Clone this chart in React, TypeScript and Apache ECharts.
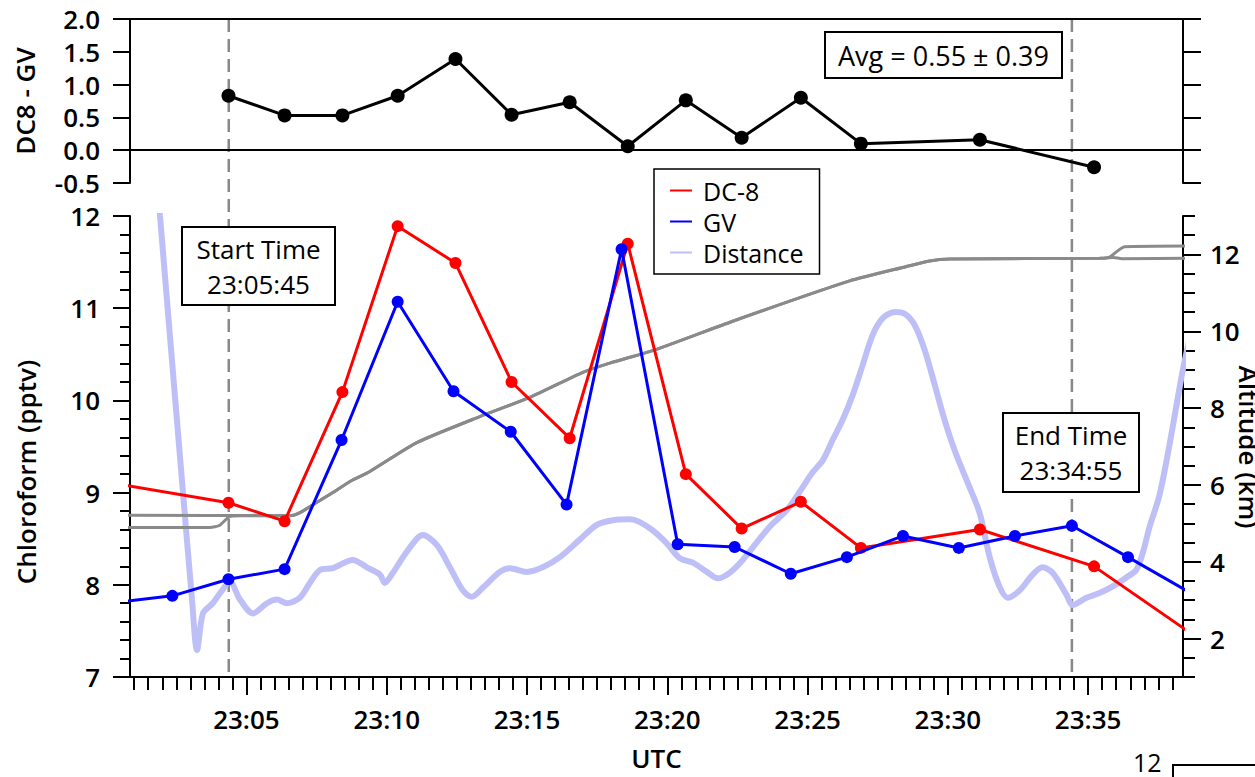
import { useEffect, useRef } from "react";
import * as echarts from "echarts";

const FONT = "'Open Sans', 'DejaVu Sans', sans-serif";

// x values are minutes after 23:00 UTC
const X_MIN = 0.85;
const X_MAX = 38.38;
const TIME_TICKS = [5, 10, 15, 20, 25, 30, 35];
const TIME_TICK_LABELS = ["23:05", "23:10", "23:15", "23:20", "23:25", "23:30", "23:35"];

// DC-8 chloroform (pptv)
const DC8_TIME = [0.3, 4.36, 6.36, 8.42, 10.39, 12.45, 14.45, 16.52, 18.59, 20.66, 22.65, 24.76, 26.9, 31.14, 35.21, 39.2];
const DC8_VALUE = [9.1, 8.89, 8.69, 10.09, 11.89, 11.49, 10.2, 9.59, 11.7, 9.2, 8.61, 8.9, 8.4, 8.6, 8.2, 7.36];

// GV chloroform (pptv)
const GV_TIME = [0.36, 2.36, 4.36, 6.36, 8.39, 10.39, 12.38, 14.42, 16.41, 18.37, 20.37, 22.4, 24.4, 26.4, 28.4, 30.39, 32.39, 34.42, 36.42, 38.6];
const GV_VALUE = [7.81, 7.88, 8.06, 8.17, 9.57, 11.07, 10.1, 9.66, 8.87, 11.64, 8.44, 8.41, 8.12, 8.3, 8.53, 8.4, 8.53, 8.64, 8.3, 7.92];

// DC8 - GV difference (pptv)
const DIFF_TIME = [4.36, 6.36, 8.42, 10.39, 12.45, 14.45, 16.52, 18.59, 20.66, 22.65, 24.76, 26.9, 31.14, 35.21];
const DIFF_VALUE = [0.83, 0.53, 0.53, 0.83, 1.39, 0.54, 0.73, 0.06, 0.76, 0.19, 0.8, 0.1, 0.16, -0.26];

// Distance (plotted on its own hidden scale)
const DISTANCE: [number, number][] = [
  [1.74, 12.72], [1.92, 12.0], [2.7, 9.14], [3.06, 7.84], [3.24, 7.29], [3.45, 7.69], [3.8, 7.8], [4.06, 7.91],
  [4.41, 8.03], [4.77, 7.84], [5.23, 7.69], [5.73, 7.8], [6.09, 7.84], [6.44, 7.8], [6.9, 7.86], [7.26, 8.02],
  [7.62, 8.16], [8.08, 8.18], [8.79, 8.27], [9.29, 8.19], [9.76, 8.11], [9.93, 8.02], [10.22, 8.13], [10.72, 8.36],
  [11.29, 8.54], [11.79, 8.43], [12.25, 8.19], [12.71, 7.94], [13.03, 7.87], [13.43, 7.97], [14.03, 8.14], [14.39, 8.18],
  [14.99, 8.14], [15.56, 8.19], [16.17, 8.3], [16.88, 8.49], [17.49, 8.65], [18.06, 8.7], [18.66, 8.71], [19.02, 8.68],
  [19.48, 8.59], [19.98, 8.45], [20.44, 8.29], [20.91, 8.24], [21.41, 8.14], [21.8, 8.07], [22.22, 8.13], [22.69, 8.27],
  [23.19, 8.46], [23.65, 8.63], [24.26, 8.81], [24.72, 9.01], [25.18, 9.22], [25.54, 9.35], [25.89, 9.57], [26.25, 9.79],
  [26.61, 10.06], [26.96, 10.38], [27.32, 10.71], [27.67, 10.89], [28.1, 10.96], [28.46, 10.94], [28.81, 10.82], [29.17, 10.55],
  [29.53, 10.17], [29.88, 9.79], [30.24, 9.46], [30.66, 9.14], [31.13, 8.78], [31.49, 8.3], [31.84, 7.98], [32.13, 7.86],
  [32.56, 7.94], [33.02, 8.11], [33.37, 8.19], [33.73, 8.13], [34.23, 7.89], [34.44, 7.78], [34.94, 7.86], [35.4, 7.91],
  [35.86, 7.98], [36.36, 8.08], [36.71, 8.16], [36.94, 8.34], [37.19, 8.63], [37.54, 8.97], [37.9, 9.52], [38.36, 10.31],
  [38.61, 10.66],
];

// Altitudes (km)
const ALT_DC8: [number, number][] = [
  [0.5, 5.21], [6.55, 5.2], [6.91, 5.28], [7.5, 5.54], [8.08, 5.8], [8.69, 6.09], [9.4, 6.35], [11.07, 7.1],
  [13.32, 7.78], [15.1, 8.28], [16.99, 8.93], [17.95, 9.17], [19.62, 9.53], [22.33, 10.26], [26.5, 11.31], [28.5, 11.68],
  [29.35, 11.83], [30.06, 11.88], [35.41, 11.9], [35.76, 11.93], [36.3, 12.2], [38.8, 12.22],
];
const ALT_GV: [number, number][] = [
  [0.5, 4.89], [3.7, 4.89], [4.05, 4.95], [4.38, 5.17], [4.8, 5.2], [6.55, 5.2], [6.91, 5.28], [7.5, 5.54],
  [8.08, 5.8], [8.69, 6.09], [9.4, 6.35], [11.07, 7.1], [13.32, 7.78], [15.1, 8.28], [16.99, 8.93], [17.95, 9.17],
  [19.62, 9.53], [22.33, 10.26], [26.5, 11.31], [28.5, 11.68], [29.35, 11.83], [30.06, 11.88], [35.41, 11.9], [35.9, 11.92],
  [36.2, 11.89], [38.8, 11.9],
];

const ALT_LABELS = [2, 4, 6, 8, 10, 12];
const START_LINE = 4.37;
const END_LINE = 34.42;
const START_TEXT = ["Start Time", "23:05:45"];
const END_TEXT = ["End Time", "23:34:55"];
const AVG_TEXT = "Avg = 0.55 \u00b1 0.39";
const CHLORO_TITLE = "Chloroform (pptv)";
const ALT_TITLE = "Altitude (km)";

function range(a: number, b: number, step: number) {
  const out: number[] = [];
  for (let v = a; v <= b + 1e-9; v += step) out.push(Math.round(v * 100) / 100);
  return out;
}

const AXIS_LINE = { show: true, lineStyle: { color: "#000", width: 2 } };
const TICK = (len: number) => ({ show: true, length: len, lineStyle: { color: "#000", width: 2 } });
const LABEL = { color: "#000", fontFamily: FONT, fontSize: 26, fontWeight: 600 };

export default function App() {
  const ref = useRef<HTMLDivElement>(null);
  useEffect(() => {
    if (!ref.current) return;
    const chart = echarts.init(ref.current, null, { renderer: "svg" });
    const option: any = {
      animation: false,
      backgroundColor: "#fff",
      grid: [
        { left: 130, right: 72, top: 19, height: 164, outerBoundsMode: "none" },
        { left: 130, right: 72, top: 216, height: 461, outerBoundsMode: "none" },
      ],
      legend: {
        orient: "vertical",
        left: 654,
        top: 169,
        padding: [9, 16, 9, 16],
        itemGap: 6,
        itemWidth: 22,
        itemHeight: 2,
        borderColor: "#000",
        borderWidth: 1.5,
        backgroundColor: "#fff",
        textStyle: { color: "#000", fontFamily: FONT, fontSize: 25, padding: [0, 0, 0, 6] },
        data: [
          { name: "DC-8", icon: "rect" },
          { name: "GV", icon: "rect" },
          { name: "Distance", icon: "rect" },
        ],
      },
      xAxis: [
        {
          gridIndex: 0, type: "value", min: X_MIN, max: X_MAX, position: "bottom",
          axisLine: { ...AXIS_LINE, onZero: true }, axisTick: { show: false }, axisLabel: { show: false }, splitLine: { show: false },
        },
        {
          gridIndex: 0, type: "value", min: X_MIN, max: X_MAX, position: "top",
          axisLine: { ...AXIS_LINE, onZero: false }, axisTick: { show: false }, axisLabel: { show: false }, splitLine: { show: false },
        },
        {
          gridIndex: 1, type: "value", min: X_MIN, max: X_MAX, position: "bottom",
          axisLine: { ...AXIS_LINE, onZero: false },
          axisTick: { ...TICK(18), customValues: TIME_TICKS },
          axisLabel: {
            ...LABEL, margin: 29, customValues: TIME_TICKS,
            formatter: (v: number) => TIME_TICK_LABELS[TIME_TICKS.indexOf(v)] ?? "",
          },
          splitLine: { show: false },
          name: "UTC", nameLocation: "middle", nameGap: 68,
          nameTextStyle: { ...LABEL },
        },
        {
          gridIndex: 1, type: "value", min: X_MIN, max: X_MAX, position: "bottom",
          axisLine: { show: false, onZero: false },
          axisTick: { ...TICK(13), customValues: range(1, 38, 0.5) },
          axisLabel: { show: false }, splitLine: { show: false },
        },
      ],
      yAxis: [
        {
          gridIndex: 0, type: "value", min: -0.5, max: 2.0, interval: 0.5, position: "left",
          axisLine: AXIS_LINE, axisTick: TICK(17),
          axisLabel: { ...LABEL, margin: 30, formatter: (v: number) => v.toFixed(1) },
          splitLine: { show: false },
          name: "DC8 - GV", nameLocation: "middle", nameGap: 92, nameTextStyle: { ...LABEL },
        },
        {
          gridIndex: 0, type: "value", min: -0.5, max: 2.0, interval: 0.5, position: "right",
          axisLine: AXIS_LINE, axisTick: TICK(18), axisLabel: { show: false }, splitLine: { show: false },
        },
        {
          gridIndex: 1, type: "value", min: 7, max: 12, interval: 1, position: "left",
          axisLine: AXIS_LINE, axisTick: TICK(17),
          minorTick: { show: true, splitNumber: 5, length: 10, lineStyle: { color: "#000", width: 2 } },
          axisLabel: { ...LABEL, margin: 30 },
          splitLine: { show: false }, minorSplitLine: { show: false },
        },
        {
          gridIndex: 1, type: "value", min: 1, max: 13, interval: 0.5, position: "right",
          axisLine: AXIS_LINE,
          axisTick: { ...TICK(12), customValues: range(1, 13, 0.5) },
          axisLabel: { ...LABEL, margin: 27, customValues: ALT_LABELS },
          splitLine: { show: false },
        },
        {
          gridIndex: 1, type: "value", min: 1, max: 13, position: "right",
          axisLine: { show: false }, axisTick: { ...TICK(18), customValues: ALT_LABELS },
          axisLabel: { show: false }, splitLine: { show: false },
        },
        { gridIndex: 1, type: "value", min: 7, max: 12, show: false },
      ],
      series: [
        {
          name: "Distance", type: "line", xAxisIndex: 2, yAxisIndex: 5, data: DISTANCE,
          symbol: "none", smooth: 0.3, z: 1, color: "#bfbff8",
          lineStyle: { color: "#bfbff8", width: 6 },
        },
        {
          name: "DC-8 Altitude", type: "line", xAxisIndex: 2, yAxisIndex: 3, data: ALT_DC8,
          symbol: "none", smooth: 0.2, z: 2, color: "#8a8a8a", lineStyle: { color: "#8a8a8a", width: 3 },
        },
        {
          name: "GV Altitude", type: "line", xAxisIndex: 2, yAxisIndex: 3, data: ALT_GV,
          symbol: "none", smooth: 0.2, z: 2, color: "#8a8a8a", lineStyle: { color: "#8a8a8a", width: 3 },
        },
        {
          name: "DC-8", type: "line", xAxisIndex: 2, yAxisIndex: 2,
          data: DC8_TIME.map((t, i) => [t, DC8_VALUE[i]]),
          symbol: "circle", symbolSize: 12, showAllSymbol: true, z: 3, color: "#ff0000",
          lineStyle: { color: "#ff0000", width: 3 }, itemStyle: { color: "#ff0000" },
        },
        {
          name: "GV", type: "line", xAxisIndex: 2, yAxisIndex: 2,
          data: GV_TIME.map((t, i) => [t, GV_VALUE[i]]),
          symbol: "circle", symbolSize: 12, showAllSymbol: true, z: 4, color: "#0000ff",
          lineStyle: { color: "#0000ff", width: 3 }, itemStyle: { color: "#0000ff" },
        },
        {
          name: "DC8 - GV", type: "line", xAxisIndex: 0, yAxisIndex: 0,
          data: DIFF_TIME.map((t, i) => [t, DIFF_VALUE[i]]),
          symbol: "circle", symbolSize: 14, showAllSymbol: true, z: 3, color: "#000",
          lineStyle: { color: "#000", width: 3 }, itemStyle: { color: "#000" },
        },
      ],
    };
    chart.setOption(option);

    const yTop = chart.convertToPixel({ yAxisIndex: 0 }, 2.0) as number;
    const yBot = chart.convertToPixel({ yAxisIndex: 2 }, 7) as number;
    const xs = chart.convertToPixel({ xAxisIndex: 2 }, START_LINE) as number;
    const xe = chart.convertToPixel({ xAxisIndex: 2 }, END_LINE) as number;
    const dash = (x: number) => ({
      type: "line", z: 0, silent: true,
      shape: { x1: x, y1: yTop, x2: x, y2: yBot },
      style: { stroke: "#888", lineWidth: 2.5, lineDash: [13, 7] },
    });
    const box = (x: number, y: number, w: number, h: number, lines: string[], fs: number) => ({
      type: "group", z: 10,
      children: [
        { type: "rect", shape: { x, y, width: w, height: h }, style: { fill: "#fff", stroke: "#000", lineWidth: 2 } },
        ...lines.map((t, i) => ({
          type: "text",
          style: {
            x: x + w / 2, y: y + h / 2 + (lines.length === 1 ? 0 : (i - 0.5) * 35),
            text: t, fill: "#000", font: `${fs}px ${FONT}`, align: "center", verticalAlign: "middle",
          },
        })),
      ],
    });
    const titleFont = `600 26px ${FONT}`;
    chart.setOption({
      graphic: [
        dash(xs),
        dash(xe),
        box(182, 227, 153, 78, START_TEXT, 26),
        box(1003, 413, 136, 79, END_TEXT, 26),
        box(825, 32, 237, 46, [AVG_TEXT], 27),
        {
          type: "text", z: 10, x: 26, y: 472, rotation: Math.PI / 2,
          style: { text: CHLORO_TITLE, fill: "#000", font: titleFont, align: "center", verticalAlign: "middle" },
        },
        {
          type: "text", z: 10, x: 1249, y: 447, rotation: -Math.PI / 2,
          style: { text: ALT_TITLE, fill: "#000", font: titleFont, align: "center", verticalAlign: "middle" },
        },
        {
          type: "text", z: 10,
          style: { x: 1133, y: 762, text: "12", fill: "#000", font: `25px ${FONT}`, verticalAlign: "middle" },
        },
        {
          type: "polyline", z: 10,
          shape: { points: [[1173, 777], [1173, 765], [1255, 765]] },
          style: { stroke: "#000", lineWidth: 2, fill: "none" },
        },
      ],
    });
    return () => chart.dispose();
  }, []);
  return <div ref={ref} style={{ position: "fixed", left: 0, top: 0, width: 1255, height: 777 }} />;
}
